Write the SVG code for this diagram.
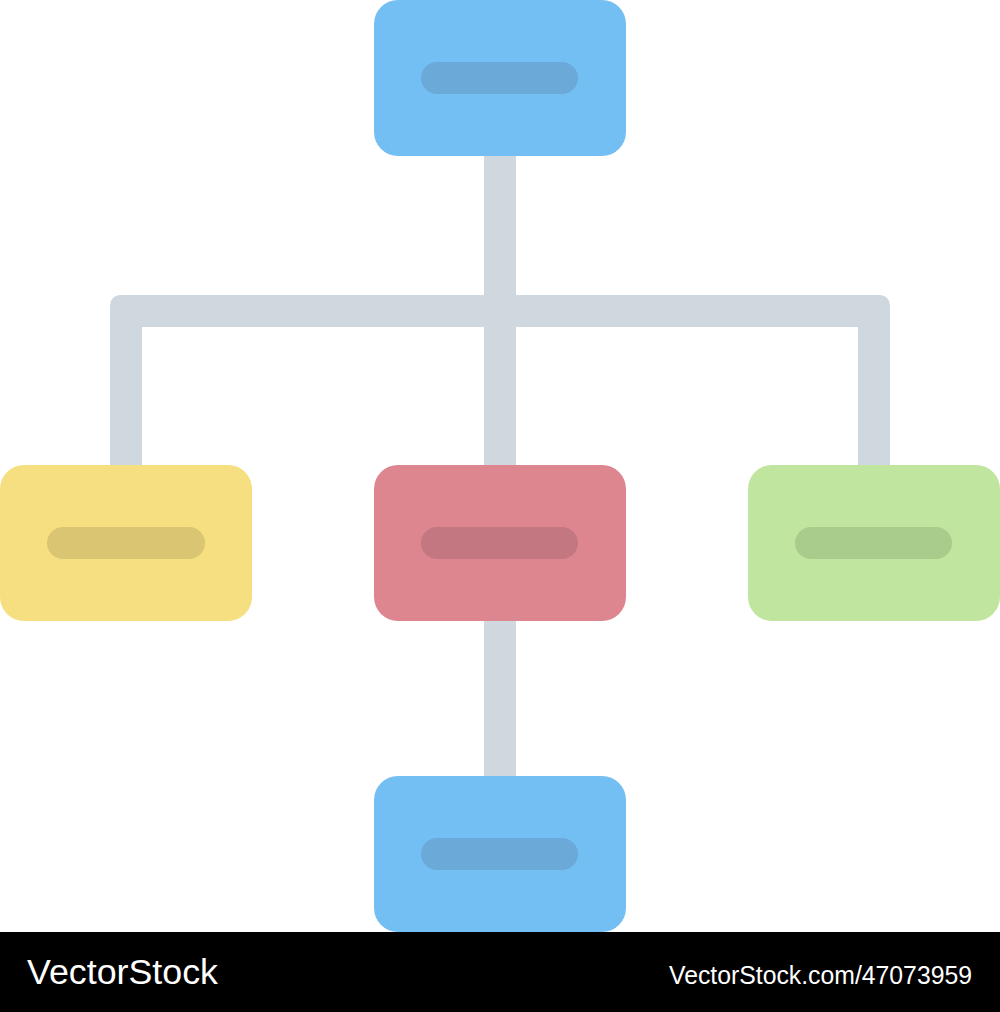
<svg xmlns="http://www.w3.org/2000/svg" width="1000" height="1012" viewBox="0 0 1000 1012">
<style>
.conn{fill:#CFD8DE}
.blue{fill:#73BFF3}.blueb{fill:#6AA9D8}
.yellow{fill:#F6DF80}.yellowb{fill:#DAC572}
.red{fill:#DE8690}.redb{fill:#C27781}
.green{fill:#C0E59E}.greenb{fill:#A9CB8C}
.wm{fill:#FFFFFF;font-family:"Liberation Sans",Arial,sans-serif}
</style>
<rect x="0" y="0" width="1000" height="1012" fill="#FFFFFF"/>
<g id="connectors">
<path class="conn" d="M110,305 A10,10 0 0 1 120,295 H880 A10,10 0 0 1 890,305 V472 H858 V327 H142 V472 H110 Z"/>
<rect class="conn" x="484" y="150" width="32" height="320"/>
<rect class="conn" x="484" y="615" width="32" height="166"/>
</g>
<g id="node-top">
<rect class="blue" x="374" y="0" width="252" height="156" rx="24"/>
<rect class="blueb" x="421" y="62" width="157" height="32" rx="16"/>
</g>
<g id="node-left">
<rect class="yellow" x="0" y="465" width="252" height="156" rx="24"/>
<rect class="yellowb" x="47" y="527" width="158" height="32" rx="16"/>
</g>
<g id="node-middle">
<rect class="red" x="374" y="465" width="252" height="156" rx="24"/>
<rect class="redb" x="421" y="527" width="157" height="32" rx="16"/>
</g>
<g id="node-right">
<rect class="green" x="748" y="465" width="252" height="156" rx="24"/>
<rect class="greenb" x="795" y="527" width="157" height="32" rx="16"/>
</g>
<g id="node-bottom">
<rect class="blue" x="374" y="776" width="252" height="156" rx="24"/>
<rect class="blueb" x="421" y="838" width="157" height="32" rx="16"/>
</g>
<g id="watermark">
<rect x="0" y="932" width="1000" height="80" fill="#000000"/>
<text class="wm" x="27" y="984" font-size="35" textLength="191" lengthAdjust="spacingAndGlyphs">VectorStock</text>
<text class="wm" x="669" y="984" font-size="25" textLength="303" lengthAdjust="spacingAndGlyphs">VectorStock.com/47073959</text>
</g>
</svg>
